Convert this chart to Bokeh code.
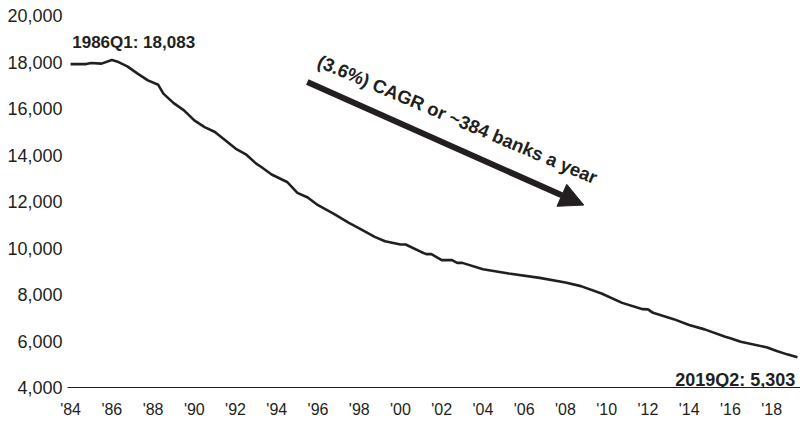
import math
from bokeh.plotting import figure
from bokeh.models import (Range1d, FixedTicker, NumeralTickFormatter, Label,
                          Arrow, NormalHead, ColumnDataSource)
from bokeh.embed import file_html
from bokeh.resources import INLINE

# ---- data (number of FDIC-insured banks) ----
quarters = ["1984Q1", "1984Q4", "1985Q1", "1985Q3", "1986Q1", "1986Q2", "1986Q4",
            "1987Q2", "1987Q4", "1988Q2", "1988Q3", "1989Q1", "1989Q3", "1990Q1",
            "1990Q3", "1991Q1", "1991Q3", "1992Q1", "1992Q3", "1993Q1", "1993Q2",
            "1993Q4", "1994Q3", "1995Q1", "1995Q3", "1996Q1", "1996Q4", "1997Q3",
            "1998Q1", "1998Q4", "1999Q2", "2000Q1", "2000Q2", "2001Q1", "2001Q2",
            "2001Q3", "2002Q1", "2002Q3", "2002Q4", "2003Q1", "2004Q1", "2005Q2",
            "2006Q4", "2008Q1", "2008Q4", "2009Q4", "2010Q4", "2011Q4", "2012Q1",
            "2012Q2", "2013Q2", "2014Q1", "2014Q4", "2015Q4", "2016Q1", "2016Q3",
            "2017Q4", "2018Q2", "2018Q4", "2019Q2"]
banks = [17910, 17910, 17960, 17930, 18083, 18025, 17810,
         17500, 17210, 17020, 16640, 16230, 15920, 15490,
         15200, 14990, 14630, 14275, 14030, 13630, 13485,
         13160, 12840, 12370, 12170, 11840, 11480, 11080,
         10840, 10480, 10290, 10150, 10150, 9830, 9735,
         9735, 9480, 9480, 9360, 9360, 9090, 8905,
         8715, 8520, 8360, 8045, 7640, 7370, 7360,
         7210, 6940, 6685, 6500, 6180, 6115, 5970,
         5730, 5570, 5425, 5303]

tick_years = [1984, 1986, 1988, 1990, 1992, 1994, 1996, 1998, 2000, 2002,
              2004, 2006, 2008, 2010, 2012, 2014, 2016, 2018]
tick_labels = ["'84", "'86", "'88", "'90", "'92", "'94", "'96", "'98", "'00", "'02",
               "'04", "'06", "'08", "'10", "'12", "'14", "'16", "'18"]
y_ticks = [4000, 6000, 8000, 10000, 12000, 14000, 16000, 18000, 20000]

start_label = "1986Q1: 18,083"
end_label = "2019Q2: 5,303"
arrow_text = "(3.6%) CAGR or ~384 banks a year"

# ---- build ----
def qfloat(q):
    return int(q[:4]) + (int(q[5]) - 1) / 4.0

xs = [qfloat(q) for q in quarters]
src = ColumnDataSource(dict(x=xs, y=banks))

INK = "#231f20"
FONT = "Liberation Sans"

p = figure(width=800, height=421, output_backend="svg", toolbar_location=None,
           x_range=Range1d(1983.85, 2019.40), y_range=Range1d(4000, 20000),
           min_border_left=67, min_border_right=0, min_border_top=15,
           min_border_bottom=34)
p.outline_line_color = None
p.xgrid.visible = False
p.ygrid.visible = False
p.background_fill_color = "white"
p.border_fill_color = "white"

p.line("x", "y", source=src, line_color=INK, line_width=2.6, line_join="round")

# x axis
xa = p.xaxis[0]
xa.ticker = FixedTicker(ticks=tick_years)
xa.major_label_overrides = {y: l for y, l in zip(tick_years, tick_labels)}
xa.axis_line_color = INK
xa.axis_line_width = 1
xa.major_tick_line_color = None
xa.minor_tick_line_color = None
xa.major_tick_out = 0
xa.major_tick_in = 0
xa.major_label_standoff = 13
xa.major_label_text_font = FONT
xa.major_label_text_font_size = "16px"
xa.major_label_text_color = INK

# y axis
ya = p.yaxis[0]
ya.ticker = FixedTicker(ticks=y_ticks)
ya.formatter = NumeralTickFormatter(format="0,0")
ya.axis_line_color = None
ya.major_tick_line_color = None
ya.minor_tick_line_color = None
ya.major_tick_out = 0
ya.major_tick_in = 0
ya.major_label_standoff = 5
ya.major_label_text_font = FONT
ya.major_label_text_font_size = "18px"
ya.major_label_text_color = INK

# annotations
p.add_layout(Label(x=1984.08, y=18854, text=start_label, text_font=FONT,
                   text_font_size="17px", text_font_style="bold", text_color=INK,
                   text_align="left", text_baseline="alphabetic"))
p.add_layout(Label(x=2019.15, y=4322, text=end_label, text_font=FONT,
                   text_font_size="18px", text_font_style="bold", text_color=INK,
                   text_align="right", text_baseline="alphabetic"))
p.add_layout(Label(x=1996.03, y=18068, text=arrow_text, text_font=FONT,
                   text_font_size="18.5px", text_font_style="bold", text_color=INK,
                   text_align="left", text_baseline="alphabetic",
                   angle=-math.radians(23.0)))
p.add_layout(Arrow(x_start=1995.48, y_start=17135, x_end=2008.89, y_end=11847,
                   line_color=INK, line_width=6,
                   end=NormalHead(size=24, fill_color=INK, line_color=INK)))

open("out.html", "w").write(file_html(p, INLINE))
